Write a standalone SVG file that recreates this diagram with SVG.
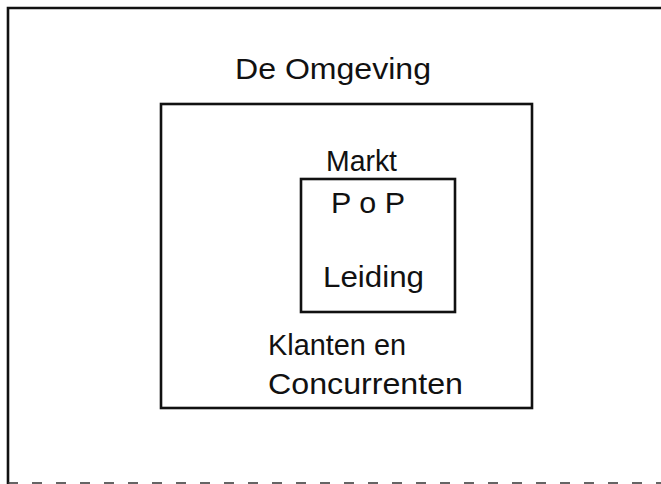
<svg xmlns="http://www.w3.org/2000/svg" width="661" height="484" viewBox="0 0 661 484">
<style>
.t{font-family:"Liberation Sans",Arial,sans-serif;font-size:29px;fill:#111}
.b{fill:none;stroke:#111;stroke-width:2.6}
</style>
<rect width="661" height="484" fill="#fff"/>
<g id="omgeving">
<path class="b" d="M8,484 V8 H661"/>
<path d="M8,483 H661" fill="none" stroke="#333" stroke-width="1.5" stroke-dasharray="10,14"/>
<text class="t" x="235" y="79" textLength="196" lengthAdjust="spacingAndGlyphs">De Omgeving</text>
</g>
<g id="markt">
<rect class="b" x="161" y="104" width="371" height="304"/>
<text class="t" x="326" y="171" textLength="71" lengthAdjust="spacingAndGlyphs">Markt</text>
<text class="t" x="268" y="355" textLength="138" lengthAdjust="spacingAndGlyphs">Klanten en</text>
<text class="t" x="268" y="394" textLength="195" lengthAdjust="spacingAndGlyphs">Concurrenten</text>
</g>
<g id="pop">
<rect class="b" x="301" y="179" width="154" height="133"/>
<text class="t" x="331" y="213" textLength="74" lengthAdjust="spacingAndGlyphs">P o P</text>
<text class="t" x="323" y="287" textLength="101" lengthAdjust="spacingAndGlyphs">Leiding</text>
</g>
<g id="connectors"></g>
</svg>
